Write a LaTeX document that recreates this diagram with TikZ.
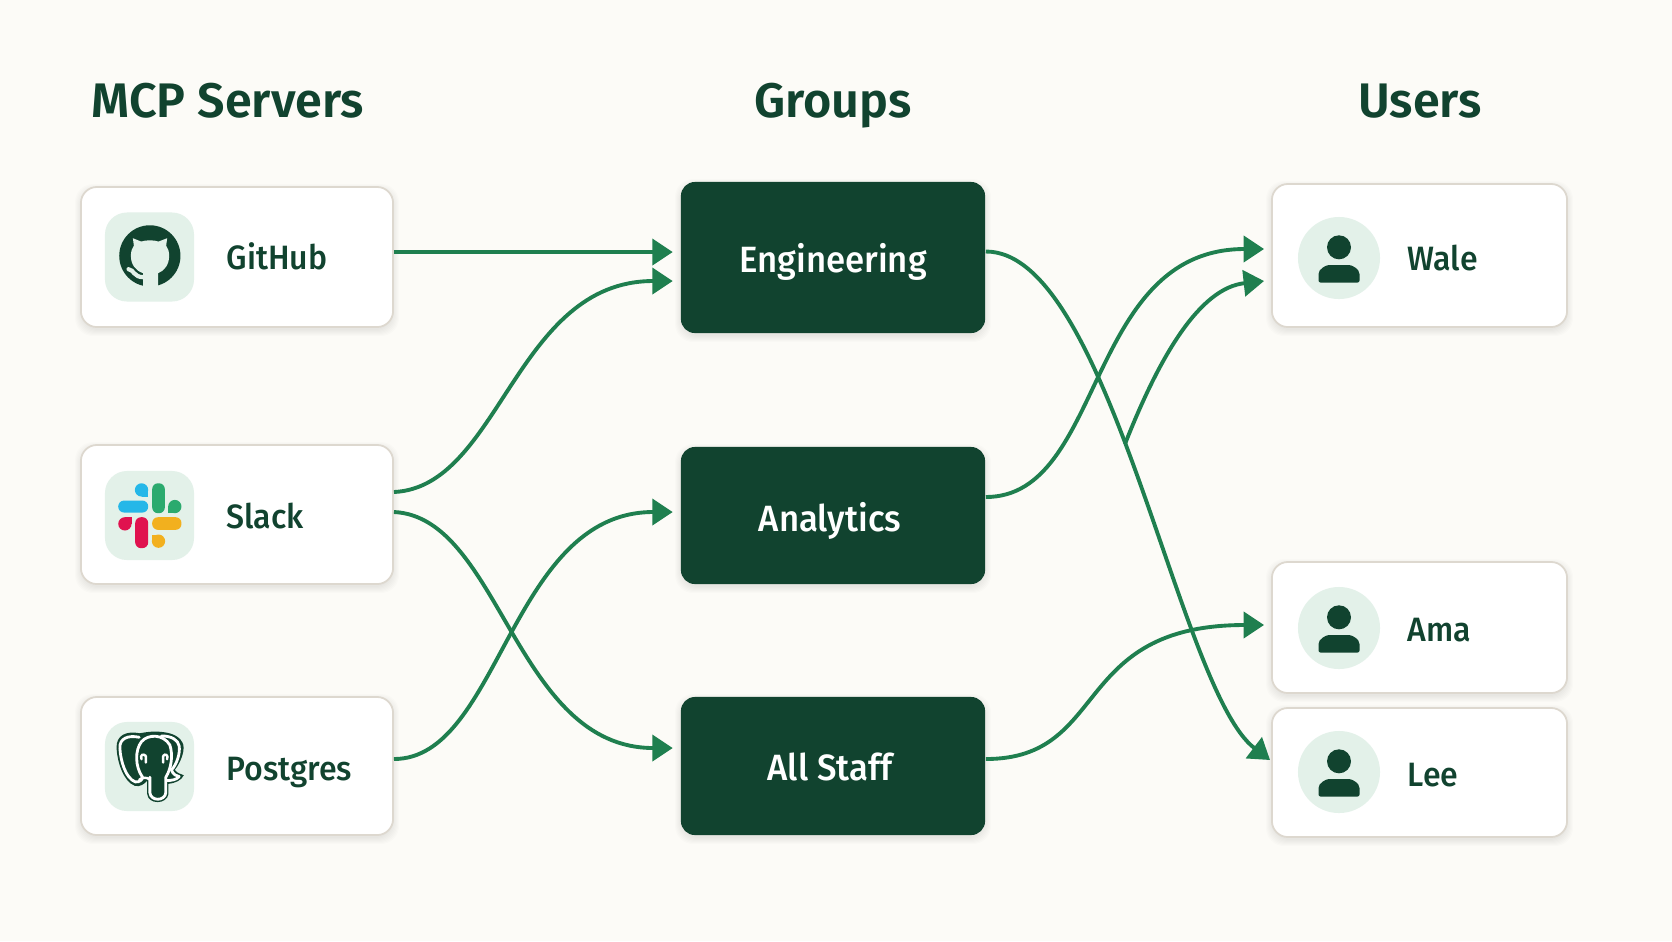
\documentclass[tikz,border=0pt]{standalone}
\usepackage{fontspec}
\usetikzlibrary{arrows.meta,calc}
\setmainfont{Fira Sans}
\newfontfamily\titlefont{Fira Sans SemiBold}
\newfontfamily\labelfont[FakeStretch=0.95]{Fira Sans Medium}
\definecolor{bgc}{HTML}{FCFBF7}
\definecolor{darkg}{HTML}{11432F}
\definecolor{lineg}{HTML}{1F7F4F}
\definecolor{iconbg}{HTML}{E3F1E9}
\definecolor{cardline}{HTML}{DDD8CF}
\definecolor{slackblue}{HTML}{25B7E8}
\definecolor{slackgreen}{HTML}{2BAA6E}
\definecolor{slackred}{HTML}{E0124F}
\definecolor{slackyellow}{HTML}{F2B01E}
\tikzset{
  x=0.01cm,y=-0.01cm,
  cardbox/.style={draw=cardline,line width=0.5pt,fill=white,rounded corners=0.16cm,inner sep=0pt},
  groupbox/.style={fill=darkg,rounded corners=0.14cm,inner sep=0pt},
  iconsq/.style={fill=iconbg,rounded corners=0.22cm,minimum width=0.89cm,minimum height=0.89cm,inner sep=0pt},
  avatar/.style={fill=iconbg,circle,minimum size=0.82cm,inner sep=0pt},
  title/.style={font=\titlefont\fontsize{13.8}{16}\selectfont,text=darkg,inner sep=0pt},
  cardlabel/.style={font=\labelfont\fontsize{9.6}{12}\selectfont,text=darkg,inner sep=0pt,anchor=base west},
  grouplabel/.style={font=\labelfont\fontsize{10.4}{12}\selectfont,text=white,inner sep=0pt,anchor=base},
  conn/.style={draw=lineg,line width=1.1pt,-{Triangle[length=5.8pt,width=7.4pt]}},
}
\newcommand{\softshadow}[4]{%
  \foreach \e in {0,1,...,6}{%
    \fill[black,opacity=0.012,rounded corners=0.18cm]
      ({#1-\e},{#2+3-\e}) rectangle ({#3+\e},{#4+3+\e});
  }}
\newcommand{\personpic}[2]{%
  \fill[darkg] (#1,#2-10.7) circle (12);
  \fill[darkg,rounded corners=0.02cm] (#1-20.5,#2+24.5) -- (#1-20.5,#2+18)
    .. controls (#1-20.5,#2+11) and (#1-13,#2+7) .. (#1-8,#2+7) -- (#1+8,#2+7)
    .. controls (#1+13,#2+7) and (#1+20.5,#2+11) .. (#1+20.5,#2+18) -- (#1+20.5,#2+24.5) -- cycle;
}
\begin{document}
\begin{tikzpicture}
\useasboundingbox (0,0) rectangle (1672,941);
\fill[bgc] (0,0) rectangle (1672,941);

% shadows
\softshadow{81}{187}{393}{327}
\softshadow{81}{445}{393}{584}
\softshadow{81}{697}{393}{835}
\softshadow{681}{182}{985}{333}
\softshadow{681}{447}{985}{584}
\softshadow{681}{697}{985}{835}
\softshadow{1272}{184}{1567}{327}
\softshadow{1272}{562}{1567}{693}
\softshadow{1272}{708}{1567}{837}

% headers
\node[title,anchor=base west] (hservers) at (91,117) {MCP Servers};
\node[title,anchor=base] (hgroups) at (833,117) {Groups};
\node[title,anchor=base] (husers) at (1420,117) {Users};

% server cards
\node[cardbox,minimum width=3.12cm,minimum height=1.40cm] (github) at (237,257) {};
\node[cardbox,minimum width=3.12cm,minimum height=1.39cm] (slack) at (237,514.5) {};
\node[cardbox,minimum width=3.12cm,minimum height=1.38cm] (postgres) at (237,766) {};
\node[iconsq] (igithub) at (149.5,257) {};
\node[iconsq] (islack) at (149.5,515.5) {};
\node[iconsq] (ipostgres) at (149.5,766.5) {};
\node[cardlabel] (lgithub) at (226,269) {GitHub};
\node[cardlabel] (lslack) at (226,528) {Slack};
\node[cardlabel] (lpostgres) at (226,780) {Postgres};

% group cards
\node[groupbox,minimum width=3.04cm,minimum height=1.51cm] (engineering) at (833,257.5) {};
\node[groupbox,minimum width=3.04cm,minimum height=1.37cm] (analytics) at (833,515.5) {};
\node[groupbox,minimum width=3.04cm,minimum height=1.38cm] (allstaff) at (833,766) {};
\node[grouplabel] (lengineering) at (833,272) {Engineering};
\node[grouplabel] (lanalytics) at (830,531) {Analytics};
\node[grouplabel] (lallstaff) at (830,780) {All Staff};

% user cards
\node[cardbox,minimum width=2.95cm,minimum height=1.43cm] (wale) at (1419.5,255.5) {};
\node[cardbox,minimum width=2.95cm,minimum height=1.31cm] (ama) at (1419.5,627.5) {};
\node[cardbox,minimum width=2.95cm,minimum height=1.29cm] (lee) at (1419.5,772.5) {};
\node[avatar] (awale) at (1339,258) {};
\node[avatar] (aama) at (1339,628) {};
\node[avatar] (alee) at (1339,772) {};
\personpic{1339}{258}
\personpic{1339}{628}
\personpic{1339}{772}
\node[cardlabel] (lwale) at (1407,270) {Wale};
\node[cardlabel] (lama) at (1407,641) {Ama};
\node[cardlabel] (llee) at (1407,786) {Lee};

% github icon
\begin{scope}[shift={(60,170)},x=0.00333cm,y=-0.00333cm]
  \fill[darkg] (270,258) circle (92);
  \fill[iconbg] (250,355) -- (250,310) .. controls (228,303) and (213,285) .. (213,258)
    .. controls (213,245) and (216,236) .. (222,227) -- (219,205) -- (244,215)
    .. controls (258,210) and (282,210) .. (296,215) -- (322,205) -- (319,227)
    .. controls (325,236) and (328,245) .. (328,258)
    .. controls (328,285) and (313,303) .. (295,310) -- (295,355) -- cycle;
  \draw[iconbg,line width=1.2pt,line cap=round] (206,298) .. controls (222,300) and (222,322) .. (250,322);
\end{scope}

% slack icon
\begin{scope}[shift={(60,430)},x=0.00333cm,y=-0.00333cm]
  \fill[slackblue,rounded corners=0.058cm] (175,212) rectangle (265,248);
  \fill[slackblue] (245,180) circle (20);
  \fill[slackblue] (245,180) rectangle (265,200);
  \fill[slackgreen,rounded corners=0.058cm] (277,160) rectangle (315,250);
  \fill[slackgreen] (345,230) circle (20);
  \fill[slackgreen] (325,230) rectangle (345,250);
  \fill[slackred,rounded corners=0.058cm] (226,262) rectangle (265,355);
  \fill[slackred] (195,282) circle (20);
  \fill[slackred] (195,262) rectangle (215,282);
  \fill[slackyellow,rounded corners=0.058cm] (277,262) rectangle (365,300);
  \fill[slackyellow] (296,334) circle (20);
  \fill[slackyellow] (277,314) rectangle (296,334);
\end{scope}

% postgres icon
\begin{scope}[shift={(60,690)},x=0.00333cm,y=-0.00333cm]
  \fill[darkg] (240,130) .. controls (200,122) and (168,135) .. (170,175)
    .. controls (172,215) and (190,275) .. (225,288)
    .. controls (240,292) and (255,282) .. (262,272)
    -- (262,312) .. controls (264,345) and (322,345) .. (326,312) -- (326,282)
    .. controls (345,280) and (365,272) .. (372,256)
    .. controls (362,252) and (352,250) .. (345,240)
    .. controls (365,215) and (378,175) .. (368,158)
    .. controls (355,132) and (320,125) .. (285,125)
    .. controls (270,125) and (255,127) .. (240,130) -- cycle;
  \draw[white,line width=0.8pt,line cap=round,line join=round]
    (238,142) .. controls (205,135) and (178,145) .. (180,175)
    .. controls (182,215) and (198,265) .. (226,276)
    .. controls (238,278) and (248,270) .. (248,262);
  \draw[white,line width=0.8pt,line cap=round,line join=round]
    (248,262) .. controls (225,230) and (225,180) .. (245,155)
    .. controls (265,132) and (310,132) .. (330,165)
    .. controls (340,195) and (335,235) .. (318,262)
    -- (318,308) .. controls (316,335) and (272,335) .. (270,308) -- (270,262);
  \draw[white,line width=0.8pt,line cap=round,line join=round]
    (305,138) .. controls (335,138) and (355,150) .. (358,168)
    .. controls (362,190) and (350,225) .. (335,240) .. controls (340,255) and (350,258) .. (358,260)
    .. controls (350,270) and (335,272) .. (320,272);
  \draw[white,line width=0.7pt,line cap=round] (245,208) .. controls (240,195) and (250,190) .. (258,198) (258,198) -- (258,218);
  \draw[white,line width=0.7pt,line cap=round] (322,208) .. controls (326,195) and (316,190) .. (310,198) (310,198) -- (310,218);
  \draw[white,line width=0.7pt,line cap=round] (238,270) .. controls (245,262) and (262,262) .. (268,268);
\end{scope}

% connectors
\path (engineering.east) ++(0,-6) coordinate (eout);
\draw[conn] ($(github.east)+(0,-5)$) -- ($(engineering.west)+(-7.5,-5.5)$);
\draw[conn] ($(slack.east)+(0,-22.5)$) .. controls (500,487) and (515,281) .. ($(engineering.west)+(-7.5,23.5)$);
\draw[conn] ($(slack.east)+(0,-2.5)$) .. controls (500,517) and (515,748) .. ($(allstaff.west)+(-7.5,-18)$);
\draw[conn] ($(postgres.east)+(0,-7)$) .. controls (500,759) and (510,512) .. ($(analytics.west)+(-7.5,-3.5)$);
\draw[conn] (eout) .. controls (1110,251) and (1178,690) .. ($(lee.west)+(-1,-12.5)$);
\draw[conn] ($(analytics.east)+(0,-18.5)$) .. controls (1105,497) and (1085,249) .. ($(wale.west)+(-7,-6.5)$);
\coordinate (branch) at (1125,444);
\draw[conn] (branch) .. controls (1160,355) and (1200,288) .. ($(wale.west)+(-7,25.5)$);
\draw[conn] ($(allstaff.east)+(0,-7)$) .. controls (1110,759) and (1070,625) .. ($(ama.west)+(-7,-2.5)$);
\end{tikzpicture}
\end{document}
